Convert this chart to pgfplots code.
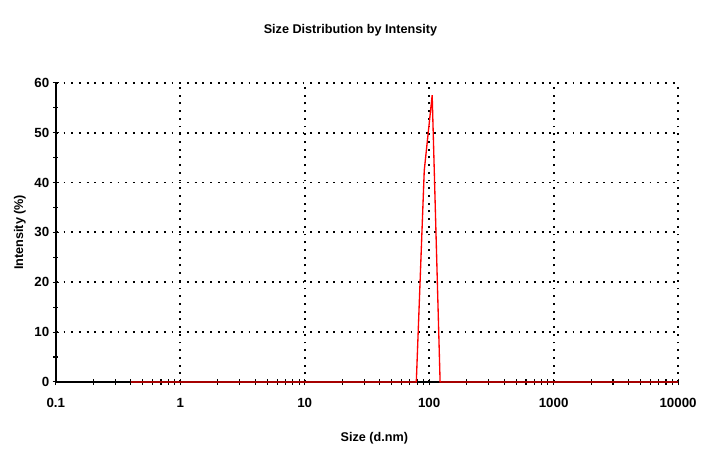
\documentclass[border=0pt]{standalone}
\usepackage{fontspec}
\setmainfont{Liberation Sans}
\usepackage{pgfplots}
\pgfplotsset{compat=1.18}
\usetikzlibrary{calc}
\begin{document}
\begin{tikzpicture}
\begin{axis}[
  scale only axis,
  width=468pt, height=225pt,
  xmode=log,
  xmin=0.1, xmax=10000,
  ymin=0, ymax=60,
  axis lines=left,
  axis line style={-, line width=1.1pt, black},
  xtick={0.1,1,10,100,1000,10000},
  xticklabels={0.1,1,10,100,1000,10000},
  ytick={0,10,20,30,40,50,60},
  minor ytick={5,15,25,35,45,55},
  minor x tick num=8,
  tick align=center,
  major tick length=5pt,
  minor tick length=4pt,
  every tick/.style={black, line width=0.8pt},
  grid=major,
  major grid style={black, line width=1.4pt, dash pattern=on 1.4pt off 4.4pt},
  /pgf/number format/assume math mode=true,
  tick label style={font=\fontsize{10}{12}\selectfont\bfseries},
  xticklabel style={yshift=-6pt},
  yticklabel style={xshift=1pt},
  title={Size Distribution by Intensity},
  title style={font=\fontsize{9.5}{11}\selectfont\bfseries, at={(rel axis cs:0.5,1)}, anchor=center, yshift=33.75pt, xshift=-12.4pt},
  xlabel={Size (d.nm)},
  xlabel style={font=\fontsize{9.5}{11}\selectfont\bfseries, at={(rel axis cs:0.5,0)}, anchor=center, yshift=-42pt, xshift=5.6pt},
  ylabel={Intensity (\%)},
  ylabel style={font=\fontsize{9.5}{11}\selectfont\bfseries, at={(rel axis cs:0,0.5)}, anchor=center, yshift=27pt},
  clip=false,
]
\addplot[red, line width=1pt] coordinates {
  (0.4,0) (78.82,0) (91.28,42.4) (105.7,57.5) (122.4,0) (10000,0)
};
\end{axis}
\path[use as bounding box] ($(current axis.south west)+(-42pt,-54pt)$) rectangle ($(current axis.north east)+(15.75pt,62.25pt)$);
\end{tikzpicture}
\end{document}
